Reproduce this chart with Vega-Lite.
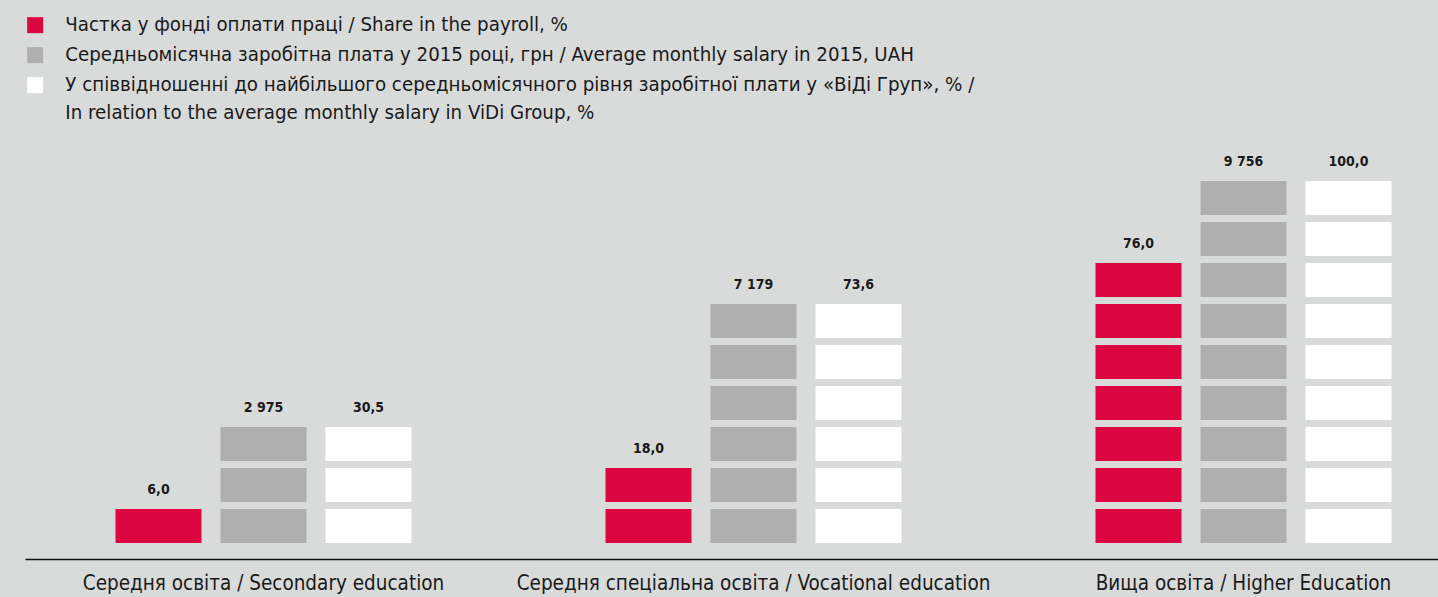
{
  "$schema": "https://vega.github.io/schema/vega-lite/v6.json",
  "width": 1413,
  "height": 435,
  "autosize": "none",
  "padding": {"left": 25, "top": 124, "right": 0, "bottom": 38},
  "background": "#d9dada",
  "config": {
    "view": {"stroke": null},
    "font": "Liberation Sans Narrow, Arial Narrow, DejaVu Sans Condensed, sans-serif"
  },
  "datasets": {
    "blocks": [
      {"group": "sec", "series": "share", "block": 1},
      {"group": "sec", "series": "salary", "block": 1},
      {"group": "sec", "series": "salary", "block": 2},
      {"group": "sec", "series": "salary", "block": 3},
      {"group": "sec", "series": "relative", "block": 1},
      {"group": "sec", "series": "relative", "block": 2},
      {"group": "sec", "series": "relative", "block": 3},
      {"group": "voc", "series": "share", "block": 1},
      {"group": "voc", "series": "share", "block": 2},
      {"group": "voc", "series": "salary", "block": 1},
      {"group": "voc", "series": "salary", "block": 2},
      {"group": "voc", "series": "salary", "block": 3},
      {"group": "voc", "series": "salary", "block": 4},
      {"group": "voc", "series": "salary", "block": 5},
      {"group": "voc", "series": "salary", "block": 6},
      {"group": "voc", "series": "relative", "block": 1},
      {"group": "voc", "series": "relative", "block": 2},
      {"group": "voc", "series": "relative", "block": 3},
      {"group": "voc", "series": "relative", "block": 4},
      {"group": "voc", "series": "relative", "block": 5},
      {"group": "voc", "series": "relative", "block": 6},
      {"group": "high", "series": "share", "block": 1},
      {"group": "high", "series": "share", "block": 2},
      {"group": "high", "series": "share", "block": 3},
      {"group": "high", "series": "share", "block": 4},
      {"group": "high", "series": "share", "block": 5},
      {"group": "high", "series": "share", "block": 6},
      {"group": "high", "series": "share", "block": 7},
      {"group": "high", "series": "salary", "block": 1},
      {"group": "high", "series": "salary", "block": 2},
      {"group": "high", "series": "salary", "block": 3},
      {"group": "high", "series": "salary", "block": 4},
      {"group": "high", "series": "salary", "block": 5},
      {"group": "high", "series": "salary", "block": 6},
      {"group": "high", "series": "salary", "block": 7},
      {"group": "high", "series": "salary", "block": 8},
      {"group": "high", "series": "salary", "block": 9},
      {"group": "high", "series": "relative", "block": 1},
      {"group": "high", "series": "relative", "block": 2},
      {"group": "high", "series": "relative", "block": 3},
      {"group": "high", "series": "relative", "block": 4},
      {"group": "high", "series": "relative", "block": 5},
      {"group": "high", "series": "relative", "block": 6},
      {"group": "high", "series": "relative", "block": 7},
      {"group": "high", "series": "relative", "block": 8},
      {"group": "high", "series": "relative", "block": 9}
    ],
    "labels": [
      {"group": "sec", "series": "share", "block": 1, "label": "6,0"},
      {"group": "sec", "series": "salary", "block": 3, "label": "2 975"},
      {"group": "sec", "series": "relative", "block": 3, "label": "30,5"},
      {"group": "voc", "series": "share", "block": 2, "label": "18,0"},
      {"group": "voc", "series": "salary", "block": 6, "label": "7 179"},
      {"group": "voc", "series": "relative", "block": 6, "label": "73,6"},
      {"group": "high", "series": "share", "block": 7, "label": "76,0"},
      {"group": "high", "series": "salary", "block": 9, "label": "9 756"},
      {"group": "high", "series": "relative", "block": 9, "label": "100,0"}
    ]
  },
  "layer": [
    {
      "data": {"name": "blocks"},
      "mark": {"type": "bar", "opacity": 1},
      "encoding": {
        "x": {
          "field": "group",
          "type": "nominal",
          "scale": {"domain": ["sec", "voc", "high"], "paddingInner": 0.3959, "paddingOuter": 0.1398, "align": 0.6606},
          "axis": {
            "title": null,
            "ticks": false,
            "labelAngle": 0,
            "labelFontSize": 20.5,
            "labelColor": "#1a1a1a",
            "labelPadding": 14,
            "labelLimit": 800,
            "domainColor": "#111111",
            "domainWidth": 1.3,
            "labelExpr": "datum.value == 'sec' ? 'Середня освіта / Secondary education' : datum.value == 'voc' ? 'Середня спеціальна освіта / Vocational education' : 'Вища освіта / Higher Education'"
          }
        },
        "xOffset": {
          "field": "series",
          "type": "nominal",
          "scale": {"domain": ["share", "salary", "relative"], "paddingInner": 0.181, "paddingOuter": 0}
        },
        "y": {
          "field": "block",
          "type": "ordinal",
          "scale": {"domain": [10, 9, 8, 7, 6, 5, 4, 3, 2, 1], "paddingInner": 0.1707, "paddingOuter": 0.3902},
          "axis": null
        },
        "color": {
          "field": "series",
          "type": "nominal",
          "scale": {"domain": ["share", "salary", "relative"], "range": ["#dc0641", "#afafaf", "#ffffff"]},
          "legend": {
            "orient": "none",
            "legendX": 0,
            "legendY": -109,
            "title": null,
            "padding": 0,
            "symbolType": "square",
            "symbolSize": 256,
            "symbolStrokeWidth": 0,
            "symbolOpacity": 1,
            "labelFontSize": 20.3,
            "labelColor": "#1a1a1a",
            "labelLimit": 1200,
            "labelOffset": 20,
            "labelBaseline": "top",
            "rowPadding": 9,
            "labelExpr": "datum.value == 'share' ? 'Частка у фонді оплати праці / Share in the payroll, %' : datum.value == 'salary' ? 'Середньомісячна заробітна плата у 2015 році, грн / Average monthly salary in 2015, UAH' : ['У співвідношенні до найбільшого середньомісячного рівня заробітної плати у «ВіДі Груп», % /', 'In relation to the average monthly salary in ViDi Group, %']",
            "encode": {
              "labels": {"update": {"dy": {"value": -10}, "lineHeight": {"value": 28}}}
            }
          }
        }
      }
    },
    {
      "data": {"name": "labels"},
      "mark": {"type": "text", "fontWeight": "bold", "fontSize": 14, "color": "#1a1a1a", "baseline": "middle", "dy": -36},
      "encoding": {
        "x": {"field": "group", "type": "nominal"},
        "xOffset": {"field": "series", "type": "nominal"},
        "y": {"field": "block", "type": "ordinal"},
        "text": {"field": "label", "type": "nominal"}
      }
    }
  ]
}
